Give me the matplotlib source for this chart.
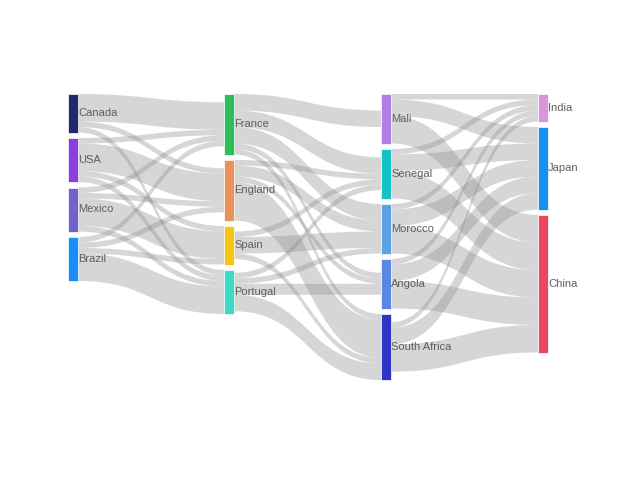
import matplotlib
matplotlib.use("Agg")
import matplotlib.pyplot as plt
from matplotlib.path import Path
from matplotlib.patches import PathPatch, Rectangle

# ============================
# Data
# ============================

columns = [
    ["Canada", "USA", "Mexico", "Brazil"],
    ["France", "England", "Spain", "Portugal"],
    ["Mali", "Senegal", "Morocco", "Angola", "South Africa"],
    ["India", "Japan", "China"],
]

node_colors = {
    "Canada": "#1f2b6e", "USA": "#8a3fdc", "Mexico": "#7462ca", "Brazil": "#1a8dfa",
    "France": "#2dbd5a", "England": "#e8935b", "Spain": "#f6c516", "Portugal": "#3dd8c6",
    "Mali": "#b07ee4", "Senegal": "#16c3c3", "Morocco": "#5ba1e6", "Angola": "#5a86e4",
    "South Africa": "#2f33c8", "India": "#d596da", "Japan": "#1c8df3", "China": "#eb4763",
}

sources = ["Brazil", "Brazil", "Brazil", "Brazil", "Canada", "Canada", "Canada",
           "Mexico", "Mexico", "Mexico", "Mexico", "USA", "USA", "USA", "USA",
           "Portugal", "Portugal", "Portugal", "Portugal",
           "France", "France", "France", "France", "France",
           "Spain", "Spain", "Spain",
           "England", "England", "England", "England",
           "South Africa", "South Africa", "South Africa",
           "Angola", "Angola", "Angola",
           "Senegal", "Senegal", "Senegal",
           "Mali", "Mali", "Mali",
           "Morocco", "Morocco", "Morocco"]
targets = ["Portugal", "France", "Spain", "England", "Portugal", "France", "England",
           "Portugal", "France", "Spain", "England", "Portugal", "France", "Spain", "England",
           "Angola", "Senegal", "Morocco", "South Africa",
           "Angola", "Senegal", "Mali", "Morocco", "South Africa",
           "Senegal", "Morocco", "South Africa",
           "Angola", "Senegal", "Morocco", "South Africa",
           "China", "India", "Japan",
           "China", "India", "Japan",
           "China", "India", "Japan",
           "China", "India", "Japan",
           "China", "India", "Japan"]
values = [5, 1, 1, 1, 1, 5, 1,
          1, 1, 5, 1, 1, 1, 1, 5,
          2, 1, 1, 3,
          1, 3, 3, 3, 1,
          1, 3, 1,
          1, 1, 2, 7,
          5, 1, 3,
          5, 1, 3,
          5, 1, 3,
          5, 1, 3,
          5, 1, 3]

# ============================
# Layout (pixel coordinates)
# ============================

col_x = [68, 224, 381, 538]
node_w = 10
top = 94
scale = 5.5
gap = 5.5

node_in = {}
node_out = {}
for s, t, v in zip(sources, targets, values):
    node_out[s] = node_out.get(s, 0) + v
    node_in[t] = node_in.get(t, 0) + v

node_pos = {}
for ci, names in enumerate(columns):
    y = top
    for name in names:
        h = max(node_in.get(name, 0), node_out.get(name, 0)) * scale
        node_pos[name] = (col_x[ci], y, h)
        y += h + gap

links = list(zip(sources, targets, values))

# outgoing links stacked by target position, incoming by source position,
# each bundle centred on its node
src_off = {}
tgt_off = {}
for name, (x, ny, nh) in node_pos.items():
    outs = sorted([l for l in links if l[0] == name], key=lambda l: node_pos[l[1]][1])
    y = ny + (nh - node_out.get(name, 0) * scale) / 2
    for l in outs:
        src_off[l] = y
        y += l[2] * scale
    ins = sorted([l for l in links if l[1] == name], key=lambda l: node_pos[l[0]][1])
    y = ny + (nh - node_in.get(name, 0) * scale) / 2
    for l in ins:
        tgt_off[l] = y
        y += l[2] * scale

# ============================
# Drawing
# ============================

fig = plt.figure(figsize=(6.18, 4.8), dpi=100)
ax = fig.add_axes([0, 0, 1, 1])
ax.set_xlim(0, 618)
ax.set_ylim(480, 0)
ax.axis("off")

for l in links:
    s, t, v = l
    x0 = node_pos[s][0] + node_w
    x1 = node_pos[t][0]
    xm = (x0 + x1) / 2
    h = v * scale
    sy = src_off[l]
    ty = tgt_off[l]
    verts = [(x0, sy), (xm, sy), (xm, ty), (x1, ty),
             (x1, ty + h), (xm, ty + h), (xm, sy + h), (x0, sy + h),
             (x0, sy)]
    codes = [Path.MOVETO, Path.CURVE4, Path.CURVE4, Path.CURVE4,
             Path.LINETO, Path.CURVE4, Path.CURVE4, Path.CURVE4,
             Path.CLOSEPOLY]
    ax.add_patch(PathPatch(Path(verts, codes), facecolor="#8c8c8c",
                           edgecolor="none", alpha=0.35, zorder=1))

for name, (x, y, h) in node_pos.items():
    ax.add_patch(Rectangle((x, y), node_w, h, facecolor=node_colors[name],
                           edgecolor="white", linewidth=0.5, zorder=2))
    ax.text(x + node_w, y + h / 2, name, fontsize=8, color="#5e5e5e",
            va="center", ha="left", family="Liberation Sans", zorder=3)

fig.savefig("out.png", dpi=100, facecolor="white")
